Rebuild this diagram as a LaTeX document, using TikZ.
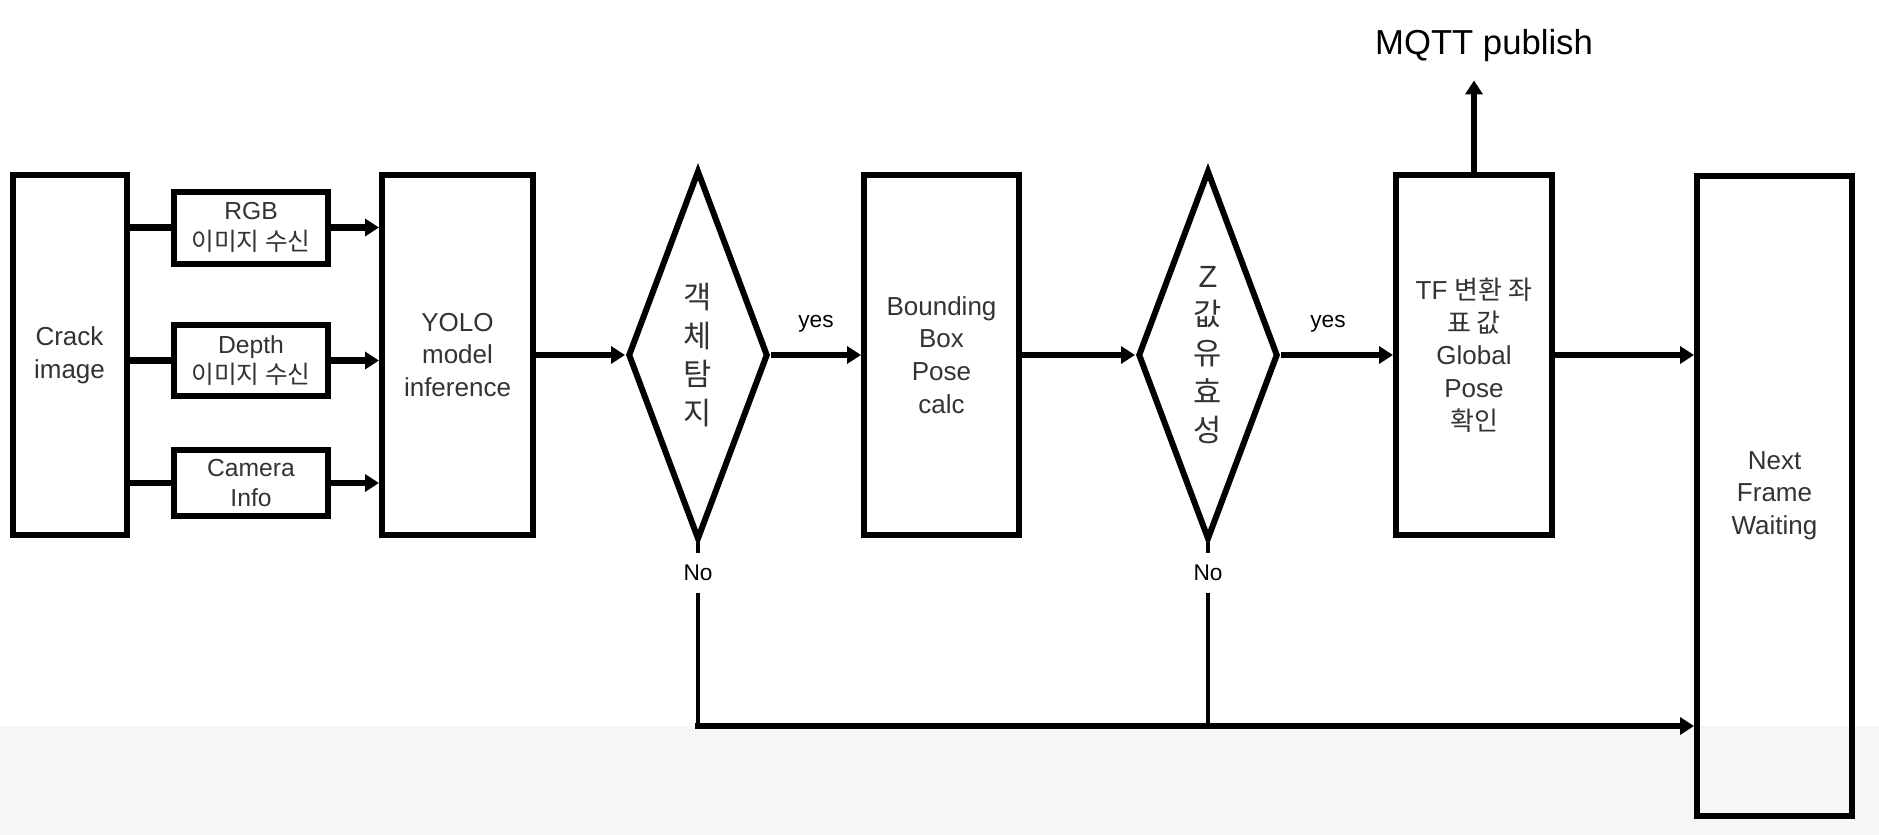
\documentclass[tikz,border=0pt]{standalone}
\usepackage{fontspec}
\setmainfont{Liberation Sans}
\newfontfamily\kr{Noto Sans CJK KR}
\usepackage{tikz}
\usetikzlibrary{arrows.meta,shapes.geometric}
\definecolor{boxtext}{HTML}{333333}
\definecolor{band}{HTML}{F6F6F6}

\begin{document}
\begin{tikzpicture}[x=0.75pt,y=-0.75pt,
  block/.style={rectangle,draw,line width=4.5pt,inner sep=0pt,align=center,text=boxtext,font=\fontsize{19.5}{24.5}\selectfont},
  inbox/.style={block,minimum width=115.5pt,font=\fontsize{18.5}{23}\selectfont},
  decision/.style={diamond,draw,line width=4.5pt,inner sep=0pt,shape aspect=0.38,minimum width=105pt,minimum height=277pt,align=center,text=boxtext,font=\fontsize{23}{29}\selectfont},
  flow/.style={line width=4.75pt,-{Triangle[length=10.5pt,width=12.75pt]}},
  link/.style={line width=4.75pt},
  noline/.style={line width=3.5pt},
  tag/.style={inner sep=0pt,font=\fontsize{17}{20}\selectfont}]

\fill[white] (0,0) rectangle (1879,835);
\fill[band] (0,726) rectangle (1879,835);
\useasboundingbox (0,0) rectangle (1879,835);

\node(crack)[block,minimum width=85.5pt,minimum height=270pt] at (69.5,355) {Crack\\image};
\node(rgb)[inbox,minimum height=54pt] at (251,227.5) {RGB\\{\kr 이미지 수신}};
\node(depth)[inbox,minimum height=53pt] at (251,360.5) {Depth\\{\kr 이미지 수신}};
\node(cam)[inbox,minimum height=49pt] at (251,483) {Camera\\Info};
\node(yolo)[block,minimum width=113.25pt,minimum height=270pt] at (457.5,355) {YOLO\\model\\inference};
\node(det)[decision] at (698,355) {\kr 객\\\kr 체\\\kr 탐\\\kr 지};
\node(bbox)[block,minimum width=116.25pt,minimum height=270pt] at (941.5,355) {Bounding\\Box\\Pose\\calc};
\node(zval)[decision] at (1208,355) {Z\\\kr 값\\\kr 유\\\kr 효\\\kr 성};
\node(tf)[block,minimum width=117pt,minimum height=270pt] at (1474,355) {TF {\kr 변환 좌}\\{\kr 표 값}\\Global\\Pose\\{\kr 확인}};
\node(nf)[block,minimum width=116.25pt,minimum height=480pt] at (1774.5,495.5) {Next\\Frame\\Waiting};
\node(mqtt)[font=\fontsize{26}{30}\selectfont,inner xsep=0pt,inner ysep=13.5pt] at (1484,46) {MQTT publish};
\node(no1)[tag,minimum height=29pt] at (698,573) {No};
\node(no2)[tag,minimum height=29pt] at (1208,573) {No};
\coordinate (j1) at (698,726);
\coordinate (j2) at (1208,726);

% inputs
\draw [link] (crack.east |- rgb) to (rgb.west);
\draw [link] (crack.east |- depth) to (depth.west);
\draw [link] (crack.east |- cam) to (cam.west);
\draw [flow] (rgb.east) to (yolo.west |- rgb);
\draw [flow] (depth.east) to (yolo.west |- depth);
\draw [flow] (cam.east) to (yolo.west |- cam);

% main line
\draw [flow] (yolo.east) to (det.west);
\draw [flow] (det.east) to node[tag,above=15pt,pos=0.5] {yes} (bbox.west);
\draw [flow] (bbox.east) to (zval.west);
\draw [flow] (zval.east) to node[tag,above=15pt,pos=0.42] {yes} (tf.west);
\draw [flow] (tf.east) to (tf.east -| nf.west);
\draw [flow] (tf.north) to (tf.north |- mqtt.south);

% no branches
\draw [noline] (det.south) to (no1.north);
\draw [noline] (no1.south) to (j1);
\draw [noline] (zval.south) to (no2.north);
\draw [noline] (no2.south) to (j2);
\draw [flow,line cap=rect] (j1) to (j1 -| nf.west);
\end{tikzpicture}
\end{document}
